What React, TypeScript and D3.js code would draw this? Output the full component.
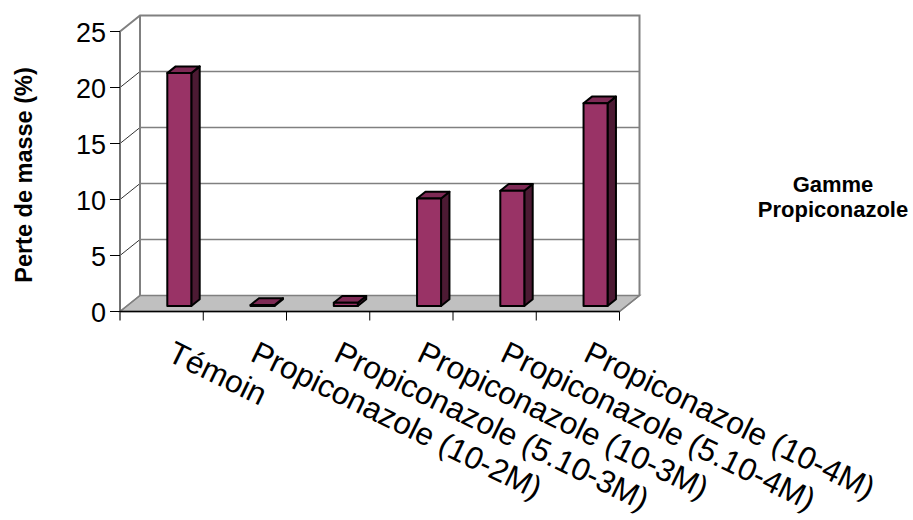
import React from "react";
import * as d3 from "d3";

const categories = [
  "Témoin",
  "Propiconazole (10-2M)",
  "Propiconazole (5.10-3M)",
  "Propiconazole (10-3M)",
  "Propiconazole (5.10-4M)",
  "Propiconazole (10-4M)",
];
const values = [20.8, 0.1, 0.3, 9.6, 10.3, 18.1];
const yTicks = [0, 5, 10, 15, 20, 25];
const yTitle = "Perte de masse (%)";
const legendLines = ["Gamme", "Propiconazole"];

const W = 913;
const H = 520;
const FONT = "'Liberation Sans', Arial, sans-serif";

export default function App() {
  const x = d3.scaleBand<string>().domain(categories).range([120, 619.5]).padding(0);
  const y = d3.scaleLinear().domain([0, 25]).range([311.5, 31.5]);
  const DX = 20;
  const DY = -16;
  const P = (px: number, v: number, d: number): [number, number] => [px + DX * d, y(v) + DY * d];
  const pts = (arr: [number, number][]) => arr.map((p) => p.join(",")).join(" ");

  const x0 = x.range()[0];
  const x1 = x.range()[1];
  const yMax = y.domain()[1];

  const barOff = 40.5;
  const barW = 24;
  const dF = 0.34;
  const dB = 0.76;

  const wallStroke = "#808080";

  return (
    <svg width={W} height={H} style={{ position: "absolute", left: 0, top: 0, background: "#fff" }}>
      {/* left side wall */}
      <polygon points={pts([P(x0, 0, 0), P(x0, yMax, 0), P(x0, yMax, 1), P(x0, 0, 1)])} fill="#fff" />
      {/* back wall */}
      <polygon points={pts([P(x0, 0, 1), P(x0, yMax, 1), P(x1, yMax, 1), P(x1, 0, 1)])} fill="#fff" />
      {/* floor */}
      <polygon
        points={pts([P(x0, 0, 0), P(x1, 0, 0), P(x1, 0, 1), P(x0, 0, 1)])}
        fill="#C0C0C0"
        stroke={wallStroke}
        strokeWidth={1.5}
      />
      {/* back wall gridlines */}
      {yTicks
        .filter((t) => t > 0 && t < yMax)
        .map((t) => {
          const a = P(x0, t, 1);
          const b = P(x1, t, 1);
          return <line key={"g" + t} x1={a[0]} y1={a[1]} x2={b[0]} y2={b[1]} stroke={wallStroke} strokeWidth={1.5} />;
        })}
      {/* side wall gridlines */}
      {yTicks
        .filter((t) => t > 0 && t < yMax)
        .map((t) => {
          const a = P(x0, t, 0);
          const b = P(x0, t, 1);
          return <line key={"s" + t} x1={a[0]} y1={a[1]} x2={b[0]} y2={b[1]} stroke="#333" strokeWidth={1} />;
        })}
      {/* wall edges */}
      <polyline
        points={pts([P(x0, yMax, 0), P(x0, yMax, 1), P(x1, yMax, 1), P(x1, 0, 1)])}
        fill="none"
        stroke={wallStroke}
        strokeWidth={2}
      />
      <line x1={P(x0, 0, 1)[0]} y1={P(x0, 0, 1)[1]} x2={P(x0, yMax, 1)[0]} y2={P(x0, yMax, 1)[1]} stroke={wallStroke} strokeWidth={2} />
      <line x1={P(x0, 0, 0)[0]} y1={P(x0, 0, 0)[1]} x2={P(x0, 0, 1)[0]} y2={P(x0, 0, 1)[1]} stroke={wallStroke} strokeWidth={1.5} />

      {/* bars */}
      {categories.map((c, i) => {
        const v = values[i];
        const xl = (x(c) as number) + barOff;
        const xr = xl + barW;
        const front = [P(xl, 0, dF), P(xl, v, dF), P(xr, v, dF), P(xr, 0, dF)] as [number, number][];
        const top = [P(xl, v, dF), P(xl, v, dB), P(xr, v, dB), P(xr, v, dF)] as [number, number][];
        const side = [P(xr, 0, dF), P(xr, v, dF), P(xr, v, dB), P(xr, 0, dB)] as [number, number][];
        return (
          <g key={"b" + i} stroke="#000" strokeWidth={2} strokeLinejoin="round">
            <polygon points={pts(side)} fill="#4C1A33" />
            <polygon points={pts(top)} fill="#7E2A55" />
            <polygon points={pts(front)} fill="#993366" />
          </g>
        );
      })}

      {/* axes */}
      <line x1={x0} y1={y(yMax)} x2={x0} y2={y(0) + 9} stroke="#707070" strokeWidth={2} />
      <line x1={x0} y1={y(0)} x2={x1} y2={y(0)} stroke="#000" strokeWidth={1.5} />
      <line x1={x1} y1={y(0)} x2={x1 + DX} y2={y(0) + DY} stroke={wallStroke} strokeWidth={1.5} />
      {categories.map((c, i) => {
        const xt = (x(c) as number) + x.bandwidth();
        return <line key={"xt" + i} x1={xt} y1={y(0)} x2={xt} y2={y(0) + 9} stroke="#000" strokeWidth={1} />;
      })}
      {yTicks.map((t) => (
        <g key={"yt" + t}>
          <line x1={x0 - 10} y1={y(t)} x2={x0} y2={y(t)} stroke="#000" strokeWidth={1} />
          <text x={106} y={y(t) + 10} textAnchor="end" fontFamily={FONT} fontSize={27} fill="#000">
            {t}
          </text>
        </g>
      ))}

      {/* category labels */}
      {categories.map((c, i) => {
        const ax = (x(c) as number) + x.bandwidth() / 2 + 4;
        const ay = 360;
        return (
          <text
            key={"cl" + i}
            transform={`translate(${ax},${ay}) rotate(26)`}
            fontFamily={FONT}
            fontSize={31.5}
            fill="#000"
          >
            {c}
          </text>
        );
      })}

      {/* y title */}
      <text
        transform={`translate(32,175) rotate(-90)`}
        textAnchor="middle"
        fontFamily={FONT}
        fontSize={23.5}
        fontWeight="bold"
        fill="#000"
      >
        {yTitle}
      </text>

      {/* legend text */}
      {legendLines.map((l, i) => (
        <text
          key={"lg" + i}
          x={833}
          y={192 + i * 25}
          textAnchor="middle"
          fontFamily={FONT}
          fontSize={22}
          fontWeight="bold"
          fill="#000"
        >
          {l}
        </text>
      ))}
    </svg>
  );
}
